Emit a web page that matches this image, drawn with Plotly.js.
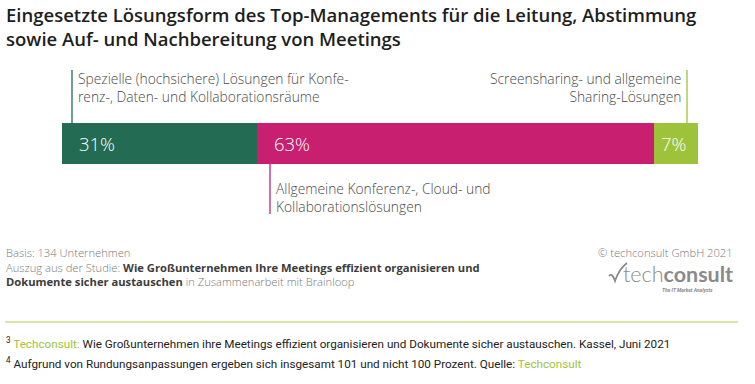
<!DOCTYPE html>
<html><head><meta charset="utf-8">
<script src="https://cdn.plot.ly/plotly-3.0.1.min.js"></script>
<style>html,body{margin:0;padding:0;background:#fff}#c{width:755px;height:384px}</style>
</head><body><div id="c"></div>
<script>
const categories = ["Spezielle (hochsichere) Lösungen für Konferenz-, Daten- und Kollaborationsräume",
                    "Allgemeine Konferenz-, Cloud- und Kollaborationslösungen",
                    "Screensharing- und allgemeine Sharing-Lösungen"];
const values = [31, 63, 7];
const valueLabels = ["31%", "63%", "7%"];
const labelLines = [["Spezielle (hochsichere) Lösungen für Konfe-", "renz-, Daten- und Kollaborationsräume"],
                    ["Allgemeine Konferenz-, Cloud- und", "Kollaborationslösungen"],
                    ["Screensharing- und allgemeine", "Sharing-Lösungen"]];
const colors = ["#236b53", "#c81f70", "#9dc33b"];
const titleLines = ["Eingesetzte Lösungsform des Top-Managements für die Leitung, Abstimmung",
                    "sowie Auf- und Nachbereitung von Meetings"];

const W = 755, H = 384;
const px = x => x / W, py = y => 1 - y / H;
const total = values.reduce((a, b) => a + b, 0);
const starts = values.map((v, i) => values.slice(0, i).reduce((a, b) => a + b, 0));

const traces = values.map((v, i) => ({
  type: 'bar', orientation: 'h', x: [v], y: ['a'], name: categories[i],
  marker: {color: colors[i], line: {width: 0}}, width: 1,
  hoverinfo: 'none'
}));

const labelFont = {family: 'Open Sans, sans-serif', size: 13.8, color: '#4a4a4a', weight: 300};
const gray = '#7a7a7a';
const footFont = {family: 'Open Sans, sans-serif', size: 11.2, color: gray, weight: 300};
const noteFont = {family: 'Roboto, sans-serif', size: 11.7, color: '#222'};

const pctFont = {family: 'Open Sans, sans-serif', size: 18.5, color: '#ffffff', weight: 300};
const pctAnn = values.map((v, i) => i === values.length - 1
  ? {text: valueLabels[i], xref: 'x', yref: 'y', x: total, y: 0, xanchor: 'right', xshift: -9, yanchor: 'middle', font: pctFont}
  : {text: valueLabels[i], xref: 'x', yref: 'y', x: starts[i], y: 0, xanchor: 'left', xshift: 15, yanchor: 'middle', font: pctFont});

const T = (text, x, y, xa, font) => ({text, x: px(x), y: py(y), xanchor: xa, yanchor: 'middle', align: xa, font, borderpad: 0});
const titleFont = {family: 'Open Sans, sans-serif', size: 18.5, color: '#1e1e1e', weight: 600};
const B = s => `<b style="color:#3c3c3c">${s}</b>`;

const ann = [
  T(titleLines.join('<br>'), 5, 26.5, 'left', titleFont),
  T(labelLines[0].join('<br>'), 77, 88, 'left', labelFont),
  T(labelLines[1].join('<br>'), 275, 197, 'left', labelFont),
  T(labelLines[2].join('<br>'), 682, 87, 'right', labelFont),
  T('Basis: 134 Unternehmen<br>Auszug aus der Studie: ' + B('Wie Großunternehmen Ihre Meetings effizient organisieren und') +
    '<br>' + B('Dokumente sicher austauschen') + ' in Zusammenarbeit mit Brainloop', 5, 266.5, 'left', footFont),
  T('© techconsult GmbH 2021', 734, 252.5, 'right', footFont),
  T('<span style="font-weight:300">tech</span><b>consult</b>', 734, 273.5, 'right',
    {family: 'Lato, Roboto, sans-serif', size: 21.5, color: '#8a8a8a'}),
  T('<b><i>The IT Market Analysts</i></b>', 714, 290, 'right',
    {family: 'Roboto, sans-serif', size: 5, color: '#8a8a8a'}),
  T('<sup>3</sup> <span style="color:#9dc33b">Techconsult:</span> Wie Großunternehmen ihre Meetings effizient organisieren und Dokumente sicher austauschen. Kassel, Juni 2021',
    5, 342.5, 'left', noteFont),
  T('<sup>4</sup> Aufgrund von Rundungsanpassungen ergeben sich insgesamt 101 und nicht 100 Prozent. Quelle: <span style="color:#9dc33b">Techconsult</span>',
    5, 363, 'left', noteFont)
];

const line = (x0, y0, x1, y1, c, w) => ({type: 'line', xref: 'paper', yref: 'paper',
  x0: px(x0), y0: py(y0), x1: px(x1), y1: py(y1), line: {color: c, width: w || 1.3}});
const shapes = [
  line(72, 70, 72, 124, colors[0]),
  line(270, 164, 270, 214, colors[1]),
  line(687, 70, 687, 124, colors[2]),
  line(5, 322, 738, 322, '#b0cf5a', 1.2),
  {type: 'path', xref: 'paper', yref: 'paper',
   path: `M ${px(609)} ${py(276)} Q ${px(612)} ${py(272)} ${px(615)} ${py(281)} Q ${px(619)} ${py(269)} ${px(627)} ${py(263)}`,
   line: {color: '#8a8a8a', width: 1.7}}
];

const layout = {
  width: W, height: H, margin: {l: 0, r: 0, t: 0, b: 0},
  paper_bgcolor: '#fff', plot_bgcolor: '#fff', barmode: 'stack', showlegend: false,
  xaxis: {domain: [62 / W, 698 / W], range: [0, total], visible: false, fixedrange: true},
  yaxis: {domain: [py(164), py(123)], range: [-0.5, 0.5], visible: false, fixedrange: true},
  annotations: pctAnn.map(a => Object.assign({showarrow: false}, a)).concat(
    ann.map(a => Object.assign({xref: 'paper', yref: 'paper', showarrow: false}, a))),
  shapes: shapes
};
Plotly.newPlot('c', traces, layout, {staticPlot: true, displayModeBar: false});
</script></body></html>
